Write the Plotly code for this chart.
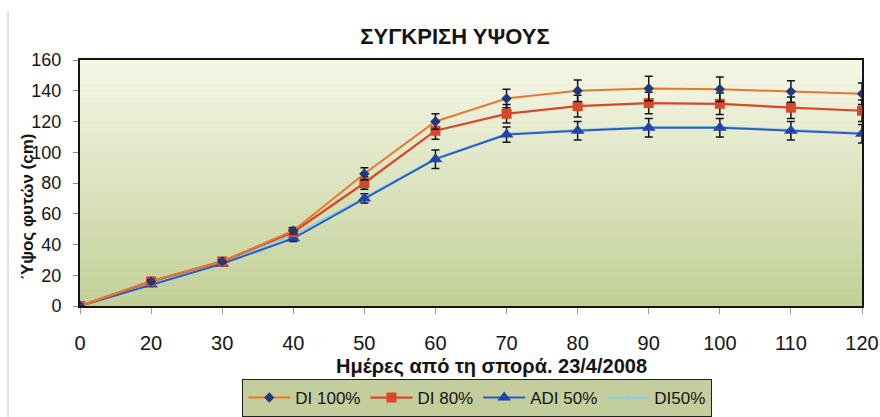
import plotly.graph_objects as go

days = ["0", "20", "30", "40", "50", "60", "70", "80", "90", "100", "110", "120"]

di100 = [0, 16, 29, 49, 86, 120, 135, 140, 141.5, 141, 139.5, 138]
di80 = [0, 16, 29, 48, 80, 114, 125, 130, 132, 131.5, 129, 127]
adi50 = [0, 14, 27.5, 44, 70, 95.5, 111.5, 114, 116, 116, 114, 112]
di50 = [0, 15, 28.5, 46, 70.5, 96, 112, 114.5, 116.5, 116.5, 114.5, 112.5]

di100_err = [0, 1, 1, 2, 4, 5, 6, 7, 8, 8, 7, 7]
di80_err = [0, 1, 1, 2, 4, 5.5, 6, 7, 7, 7, 7, 7]
adi50_err = [0, 1, 1, 2, 3, 6, 5, 6, 6, 6, 6, 6]

yticks = [0, 20, 40, 60, 80, 100, 120, 140, 160]

FONT = "Liberation Sans, Arial, sans-serif"
INK = "#141414"

fig = go.Figure()

# background gradient bands in the plot area
n = 40
top = (246, 247, 232)
bot = (194, 208, 152)
for i in range(n):
    t = i / (n - 1)
    c = tuple(int(top[k] + (bot[k] - top[k]) * t) for k in range(3))
    fig.add_shape(type="rect", xref="paper", yref="paper",
                  x0=0, x1=1, y0=1 - (i + 1) / n, y1=1 - i / n,
                  fillcolor="rgb(%d,%d,%d)" % c, line=dict(width=0), layer="below")

fig.add_trace(go.Scatter(
    x=days, y=di50, name="DI50%", mode="lines+markers",
    line=dict(color="#8CCFE6", width=2),
    marker=dict(symbol="circle", size=4, color="#8CCFE6"),
))
fig.add_trace(go.Scatter(
    x=days, y=adi50, name="ADI 50%", mode="lines+markers",
    line=dict(color="#2C5DBE", width=2),
    marker=dict(symbol="triangle-up", size=12, color="#1E45A8"),
    error_y=dict(type="data", array=adi50_err, color=INK, thickness=1.5, width=4),
))
fig.add_trace(go.Scatter(
    x=days, y=di80, name="DI 80%", mode="lines+markers",
    line=dict(color="#D9472A", width=2.2),
    marker=dict(symbol="square", size=10, color="#D9472A"),
    error_y=dict(type="data", array=di80_err, color=INK, thickness=1.5, width=4),
))
fig.add_trace(go.Scatter(
    x=days, y=di100, name="DI 100%", mode="lines+markers",
    line=dict(color="#E8782E", width=2),
    marker=dict(symbol="diamond", size=8, color="#1F3A7A"),
    error_y=dict(type="data", array=di100_err, color=INK, thickness=1.5, width=4),
))

# faint outer chart border on the left
fig.add_shape(type="line", xref="paper", yref="paper", x0=-0.092, x1=-0.092,
              y0=-0.45, y1=1.2, line=dict(color="#d8d8d8", width=1.5))

# axis titles as annotations (positioned as in the reference)
fig.add_annotation(text="<b>Ημέρες από τη σπορά. 23/4/2008</b>", xref="paper", yref="paper",
                   x=0.526, y=-0.245, xanchor="center", yanchor="middle", showarrow=False,
                   font=dict(size=20, family=FONT, color=INK))
fig.add_annotation(text="<b>Ύψος φυτών (cm)</b>", xref="paper", yref="paper",
                   x=-0.0665, y=0.404, xanchor="center", yanchor="middle", showarrow=False,
                   textangle=-90, font=dict(size=17, family=FONT, color=INK))

fig.update_layout(
    width=880, height=417,
    margin=dict(l=80, r=18, t=60, b=111),
    paper_bgcolor="white",
    plot_bgcolor="rgb(220,228,190)",
    font=dict(family=FONT, color=INK),
    title=dict(text="<b>ΣΥΓΚΡΙΣΗ ΥΨΟΥΣ</b>", x=0.4795, xref="paper", xanchor="center",
               y=1 - 36.5 / 417, yanchor="middle",
               font=dict(size=22, family=FONT, color=INK)),
    showlegend=True,
    legend=dict(orientation="h", x=0.508, xanchor="center",
                yref="container", y=1 - 379 / 417, yanchor="top",
                bgcolor="#C3CE9C", bordercolor="#222222", borderwidth=1,
                font=dict(size=17, family=FONT, color=INK),
                traceorder="reversed", itemwidth=42),
    xaxis=dict(
        type="category", categoryorder="array", categoryarray=days,
        range=[0, 11], showgrid=False, zeroline=False, automargin=False,
        showline=True, linecolor=INK, linewidth=2, mirror=True,
        ticks="outside", ticklen=6, tickcolor="#999999", tickwidth=1,
        ticklabelstandoff=12,
        tickfont=dict(size=20, family=FONT, color=INK),
    ),
    yaxis=dict(
        range=[0, 160], tickvals=yticks, showgrid=False, zeroline=False, automargin=False,
        showline=True, linecolor=INK, linewidth=2, mirror=True,
        ticks="outside", ticklen=5, tickcolor="#888888",
        ticklabelstandoff=8,
        tickfont=dict(size=18, family=FONT, color=INK),
    ),
)

fig.write_html("out.html", config={"displayModeBar": False},
               post_script="document.body.style.margin='0';")
